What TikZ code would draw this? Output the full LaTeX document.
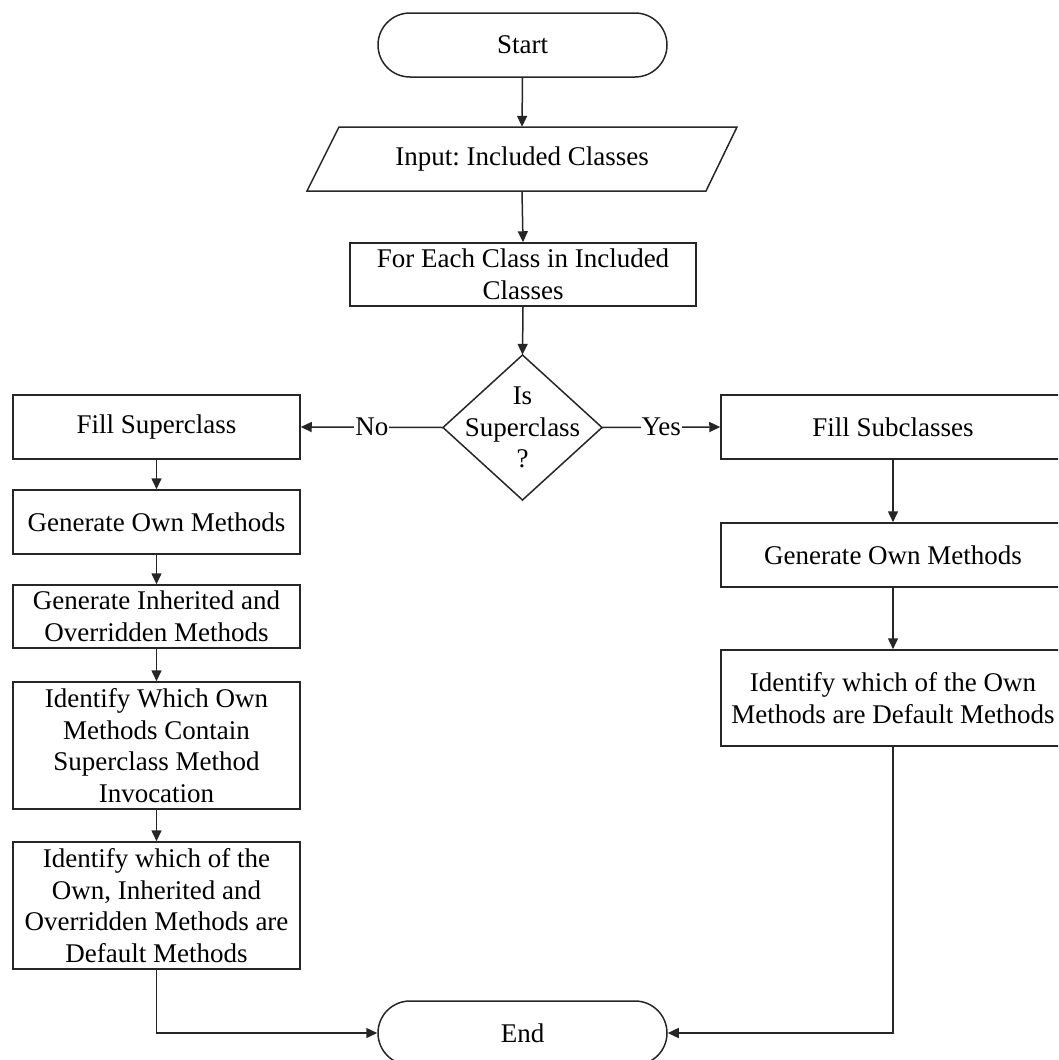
\documentclass[tikz,border=0pt]{standalone}
\usepackage{fontspec}
\setmainfont{Liberation Serif}
\usetikzlibrary{arrows.meta}
\begin{document}
\begin{tikzpicture}[x=1pt,y=-1pt,
  font=\fontsize{27}{31.5}\selectfont,
  line/.style={draw=black!85,line width=1.5pt},
  arr/.style={line,-{Triangle[length=11pt,width=10pt]}},
  box/.style={line,rectangle,align=center,inner sep=0pt},
  lbox/.style={box,minimum width=287pt},
  rbox/.style={box,minimum width=344pt},
  term/.style={line,rectangle,rounded corners=32pt,minimum width=289pt,minimum height=64pt},
  ghost/.style={rectangle,draw=none,align=center,inner sep=0pt},
  lab/.style={fill=white,inner sep=1pt}]
\useasboundingbox (0,0) rectangle (1058,1060);
\clip (0,0) rectangle (1058,1060);

% terminals
\node[term] (start) at (522.5,45) {Start};
\node[term] (stop) at (522.5,1033) {End};

% input parallelogram
\draw[line] (339,127) -- (737,127) -- (706,191) -- (307,191) -- cycle;
\node[ghost,minimum width=300pt,minimum height=64pt] (inp) at (522,159) {Input:\ Included Classes};

% loop box
\node[box,minimum width=346pt,minimum height=63pt] (each) at (523,274.5)
  {For Each Class in Included\\Classes};

% decision diamond
\draw[line] (522.5,355) -- (602,427.5) -- (522.5,500) -- (443,427.5) -- cycle;
\node[ghost,minimum width=159pt,minimum height=145pt] (dec) at (522.5,427.5)
  {Is\\Superclass\\?};

% left column
\node[lbox,minimum height=64pt] (fsup) at (156.5,427) {Fill Superclass};
\node[lbox,minimum height=64pt] (gown) at (156.5,522) {Generate Own Methods};
\node[lbox,minimum height=63pt] (ginh) at (156.5,616.5)
  {Generate Inherited and\\Overridden Methods};
\node[lbox,minimum height=127pt] (idwo) at (156.5,745.5)
  {Identify Which Own\\Methods Contain\\Superclass Method\\Invocation};
\node[lbox,minimum height=127pt] (idoi) at (156.5,905.5)
  {Identify which of the\\Own, Inherited and\\Overridden Methods are\\Default Methods};

% right column
\node[rbox,minimum height=64pt] (fsub) at (893,427) {Fill Subclasses};
\node[rbox,minimum height=64pt] (rgown) at (893,555) {Generate Own Methods};
\node[rbox,minimum height=96pt] (ridf) at (893,698)
  {Identify which of the Own\\Methods are Default Methods};

% connectors
\draw[arr] (start.south) -- (inp.north);
\draw[arr] (inp.south) -- (each.north);
\draw[arr] (each.south) -- (dec.north);
\draw[arr] (dec.west) -- node[lab] {No} (fsup.east);
\draw[arr] (dec.east) -- node[lab] {Yes} (fsub.west);
\draw[arr] (fsup) -- (gown);
\draw[arr] (gown) -- (ginh);
\draw[arr] (ginh) -- (idwo);
\draw[arr] (idwo) -- (idoi);
\draw[arr] (idoi.south) |- (stop.west);
\draw[arr] (fsub) -- (rgown);
\draw[arr] (rgown) -- (ridf);
\draw[arr] (ridf.south) |- (stop.east);
\end{tikzpicture}
\end{document}
